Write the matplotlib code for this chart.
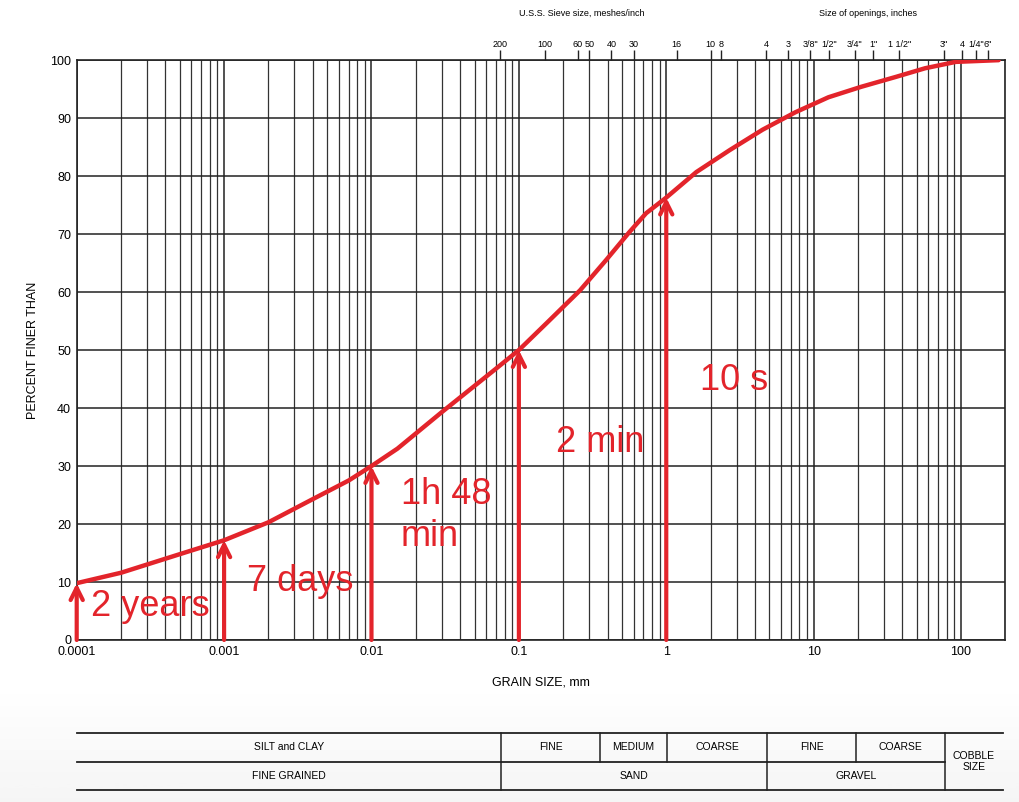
import numpy as np
import matplotlib
matplotlib.use("Agg")
import matplotlib.pyplot as plt
from matplotlib.ticker import FixedLocator, NullFormatter

plt.rcParams['font.family'] = ['Liberation Sans', 'DejaVu Sans']

RED = '#e3242b'

# grain size distribution curve (mm, % finer)
grain_mm = [0.0001, 0.0002, 0.0005, 0.001, 0.002, 0.004, 0.007, 0.01, 0.015, 0.03,
            0.07, 0.1, 0.155, 0.26, 0.39, 0.56, 0.73, 1.0, 1.6, 2.7, 4.5, 7.5,
            12.6, 21, 36, 57, 92, 180]
pct_finer = [9.8, 11.6, 14.8, 17.2, 20.3, 24.3, 27.5, 30, 33, 39.3,
             46.8, 50, 54.7, 60.3, 65.5, 70.3, 73.6, 76.3, 80.7, 84.5, 88.0, 91.0,
             93.6, 95.4, 97.1, 98.6, 99.7, 100]

# settling time arrows
arrow_x = [0.0001, 0.001, 0.01, 0.1, 1]
arrow_y = [9.8, 17.2, 30, 50, 76.3]
arrow_labels = ['2 years', '7 days', '1h 48\nmin', '2 min', '10 s']
label_x = [1.25e-4, 1.42e-3, 0.0158, 0.18, 1.7]
label_y = [5.8, 10.1, 21.5, 34, 44.7]

# top axis: sieve sizes and openings (mm)
sieve_mm = [0.075, 0.15, 0.25, 0.30, 0.425, 0.60, 1.18, 2.0, 2.36,
            4.75, 6.7, 9.5, 12.7, 19.0, 25.4, 38.1, 76.2, 101.6, 127, 152.4]
sieve_labels = ['200', '100', '60', '50', '40', '30', '16', '10', '8',
                '4', '3', '3/8"', '1/2"', '3/4"', '1"', '1 1/2"', '3"', '4', '1/4"', '6"']

fig = plt.figure(figsize=(10.2, 8.02), dpi=100)

# light grey band at the bottom
bg = fig.add_axes([0, 0, 1, 0.14], zorder=-5)
grad = np.linspace(0, 0.08, 100).reshape(-1, 1)
bg.imshow(grad, aspect='auto', cmap='Greys', vmin=0, vmax=1, extent=[0, 1, 0, 1], origin='upper')
bg.axis('off')

ax = fig.add_axes([0.0752, 0.202, 0.9105, 0.723])
ax.set_xscale('log')
ax.set_xlim(1e-4, 200)
ax.set_ylim(0, 100)

ax.xaxis.set_major_locator(FixedLocator([1e-4, 1e-3, 1e-2, 1e-1, 1, 10, 100]))
ax.set_xticklabels(['0.0001', '0.001', '0.01', '0.1', '1', '10', '100'])
ax.xaxis.set_minor_formatter(NullFormatter())
ax.set_yticks(range(0, 101, 10))
ax.tick_params(axis='both', which='both', length=0, labelsize=9, pad=4)
ax.grid(True, which='major', color='#222222', lw=1.1)
ax.grid(True, which='minor', axis='x', color='#333333', lw=0.9)
for s in ax.spines.values():
    s.set_color('#222222')
    s.set_linewidth(1.2)

ax.plot(grain_mm, pct_finer, color=RED, lw=3.2, solid_capstyle='round',
        solid_joinstyle='round', zorder=5)

for xa, ya in zip(arrow_x, arrow_y):
    ax.annotate('', xy=(xa, ya), xytext=(xa, 0),
                arrowprops=dict(arrowstyle='->', color=RED, lw=3, mutation_scale=22,
                                shrinkA=0, shrinkB=0), zorder=6)
for lx, ly, txt in zip(label_x, label_y, arrow_labels):
    ax.text(lx, ly, txt, color=RED, fontsize=26, va='center', ha='left',
            linespacing=1.25, zorder=7)

ax.set_xlabel('GRAIN SIZE, mm', fontsize=9, labelpad=14)
ax.set_ylabel('PERCENT FINER THAN', fontsize=9, labelpad=8)

top = ax.secondary_xaxis('top')
top.set_xticks(sieve_mm)
top.set_xticklabels(sieve_labels)
top.xaxis.set_minor_locator(FixedLocator([]))
top.tick_params(axis='x', length=7, width=1, labelsize=6.5, pad=1, direction='out', color='#222222')
top.spines['top'].set_visible(False)

fig.text(0.57, 0.983, 'U.S.S. Sieve size, meshes/inch', fontsize=6.5, ha='center', va='center')
fig.text(0.851, 0.983, 'Size of openings, inches', fontsize=6.5, ha='center', va='center')

# classification table
tab = fig.add_axes([0, 0, 1, 1], zorder=2)
tab.set_xlim(0, 1020)
tab.set_ylim(802, 0)
tab.axis('off')
y_top, y_mid, y_bot = 733, 762, 790
x_left, x_right = 77, 1003
tab.plot([x_left, x_right], [y_top, y_top], color='#222222', lw=1.3)
tab.plot([x_left, 945], [y_mid, y_mid], color='#222222', lw=1.3)
tab.plot([x_left, x_right], [y_bot, y_bot], color='#222222', lw=1.3)

upper_cells = [(77, 501, 'SILT and CLAY'), (501, 600, 'FINE'), (600, 667, 'MEDIUM'),
               (667, 767, 'COARSE'), (767, 856, 'FINE'), (856, 945, 'COARSE')]
lower_cells = [(77, 501, 'FINE GRAINED'), (501, 767, 'SAND'), (767, 945, 'GRAVEL')]
for x0, x1, t in upper_cells:
    if x0 > x_left:
        tab.plot([x0, x0], [y_top, y_mid], color='#222222', lw=1.1)
    tab.text((x0 + x1) / 2, (y_top + y_mid) / 2, t, fontsize=7.5, ha='center', va='center')
for x0, x1, t in lower_cells:
    if x0 > x_left:
        tab.plot([x0, x0], [y_mid, y_bot], color='#222222', lw=1.1)
    tab.text((x0 + x1) / 2, (y_mid + y_bot) / 2, t, fontsize=7.5, ha='center', va='center')
tab.plot([945, 945], [y_top, y_bot], color='#222222', lw=1.1)
tab.text(974, (y_top + y_bot) / 2, 'COBBLE\nSIZE', fontsize=7.5, ha='center', va='center', linespacing=1.2)

fig.savefig('out.png', dpi=100)
